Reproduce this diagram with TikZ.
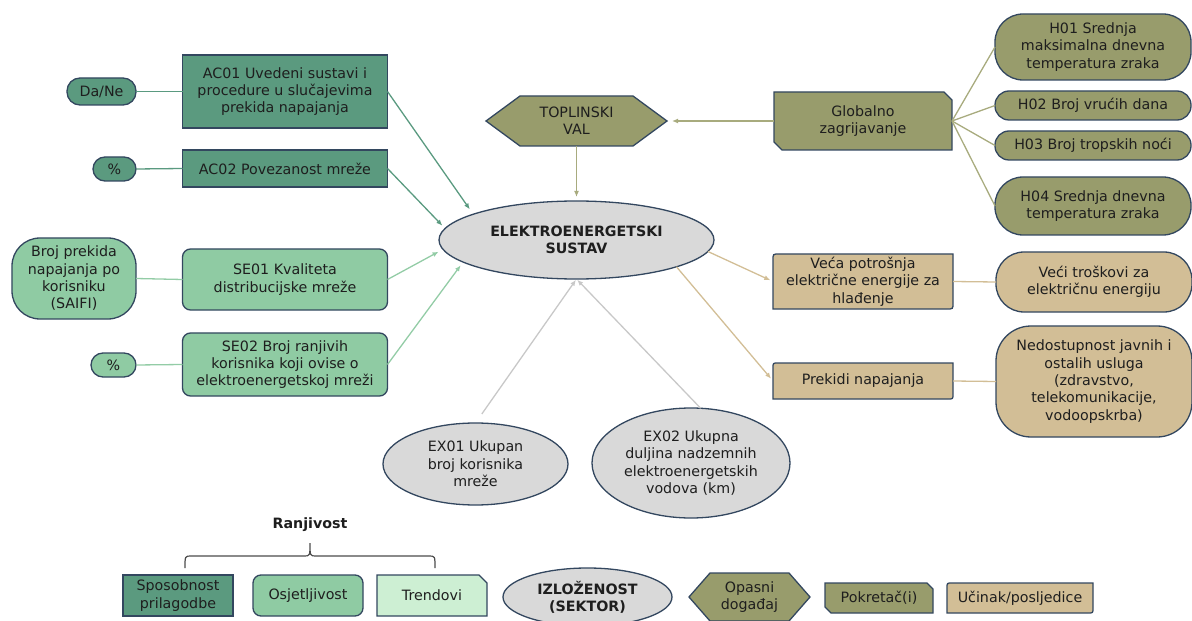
\documentclass[tikz,border=0pt]{standalone}
\usepackage{fontspec}
\setmainfont{DejaVu Sans}
\usetikzlibrary{shapes.geometric,arrows.meta,backgrounds}

\definecolor{bordercol}{HTML}{33475F}
\definecolor{ink}{HTML}{1E1E1E}
\definecolor{tealD}{HTML}{5B9A7F}
\definecolor{greenM}{HTML}{8FCBA3}
\definecolor{greenL}{HTML}{CDEFD3}
\definecolor{oliveF}{HTML}{989C6C}
\definecolor{tanF}{HTML}{D2BE96}
\definecolor{greyE}{HTML}{D9D9D9}
\definecolor{tealLine}{HTML}{5A9A80}
\definecolor{greenLine}{HTML}{93CCA6}
\definecolor{oliveLine}{HTML}{A8AB7E}
\definecolor{tanLine}{HTML}{D2BE96}
\definecolor{greyLine}{HTML}{C8C8C8}

\newcommand\lblfont{\fontsize{14.3}{17.4}\selectfont}

% hexagon around a (plain) node: node, tip depth, fill
\newcommand\hexfill[3]{%
  \filldraw[edge, fill=#3] (#1.west) -- ([xshift=#2]#1.north west) -- ([xshift=-#2]#1.north east)
    -- (#1.east) -- ([xshift=-#2]#1.south east) -- ([xshift=#2]#1.south west) -- cycle;}
% box with snipped top-right and bottom-left corners
\newcommand\snipfill[3]{%
  \filldraw[edge, fill=#3] (#1.north west) -- ([xshift=-#2]#1.north east) -- ([yshift=-#2]#1.north east)
    -- (#1.south east) -- ([xshift=#2]#1.south west) -- ([yshift=#2]#1.south west) -- cycle;}
% box with only the top-right corner snipped
\newcommand\snipTRfill[3]{%
  \filldraw[edge, fill=#3] (#1.north west) -- ([xshift=-#2]#1.north east) -- ([yshift=-#2]#1.north east)
    -- (#1.south east) -- (#1.south west) -- cycle;}
% box with rounded top-left and bottom-right corners
\newcommand\diagroundfill[3]{%
  \filldraw[edge, fill=#3] (#1.south west) -- ([yshift=-#2]#1.north west)
    .. controls (#1.north west) .. ([xshift=#2]#1.north west) -- (#1.north east)
    -- ([yshift=#2]#1.south east) .. controls (#1.south east) .. ([xshift=-#2]#1.south east) -- cycle;}

\begin{document}
\begin{tikzpicture}[x=1bp,y=-1bp,
  every node/.style={inner sep=0pt, outer sep=0pt, align=center, font=\lblfont, text=ink},
  edge/.style={draw=bordercol, line width=1.3bp},
  sz/.style 2 args={minimum width=#1bp, minimum height=#2bp},
  sharpbox/.style={rectangle, edge},
  roundbox/.style={rectangle, edge, rounded corners=8bp},
  pill/.style={rectangle, edge, rounded corners=#1},
  oval/.style={ellipse, edge, fill=greyE},
  ghost/.style={rectangle},
  link/.style={line width=1.3bp},
  tip/.style={-{Latex[length=6bp,width=5bp]}},
]
\useasboundingbox (0,0) rectangle (1192,621);

% adaptive capacity
\node[sharpbox, fill=tealD, sz={205}{73}] (ac01) at (285,91.5) {AC01 Uvedeni sustavi i\\procedure u slučajevima\\prekida napajanja};
\node[pill=13bp, fill=tealD, sz={69}{27}] (dane) at (101.5,91.5) {Da/Ne};
\node[sharpbox, fill=tealD, sz={205}{37}] (ac02) at (285,168.5) {AC02 Povezanost mreže};
\node[pill=12bp, fill=tealD, sz={43}{24}] (pc1) at (114.5,169) {\%};

% sensitivity
\node[roundbox, fill=greenM, sz={205}{61}] (se01) at (285,279.5) {SE01 Kvaliteta\\distribucijske mreže};
\node[pill=28bp, fill=greenM, sz={124}{81}] (saifi) at (74,278.5) {Broj prekida\\napajanja po\\korisniku\\(SAIFI)};
\node[roundbox, fill=greenM, sz={205}{63}] (se02) at (285,364.5) {SE02 Broj ranjivih\\korisnika koji ovise o\\elektroenergetskoj mreži};
\node[pill=12bp, fill=greenM, sz={45}{24}] (pc2) at (113.5,365) {\%};

% hazard and sector
\node[ghost, sz={181}{50}] (tv) at (576.5,121) {TOPLINSKI\\VAL};
\node[oval, sz={275}{78}, font=\lblfont\bfseries] (es) at (576.5,240) {ELEKTROENERGETSKI\\SUSTAV};

% drivers
\node[ghost, sz={178}{58}] (gz) at (863,121) {Globalno\\zagrijavanje};
\node[pill=28bp, fill=oliveF, sz={196}{66}] (h01) at (1093,47) {H01 Srednja\\maksimalna dnevna\\temperatura zraka};
\node[pill=14bp, fill=oliveF, sz={196}{29}] (h02) at (1093,105.5) {H02 Broj vrućih dana};
\node[pill=14bp, fill=oliveF, sz={196}{29}] (h03) at (1093,145.5) {H03 Broj tropskih noći};
\node[pill=28bp, fill=oliveF, sz={196}{58}] (h04) at (1093,206) {H04 Srednja dnevna\\temperatura zraka};

% impacts
\node[ghost, sz={180}{55}] (vp) at (863,281.5) {Veća potrošnja\\električne energije za\\hlađenje};
\node[pill=28bp, fill=tanF, sz={196}{60}] (vt) at (1094,282) {Veći troškovi za\\električnu energiju};
\node[ghost, sz={180}{36}] (pn) at (863,381) {Prekidi napajanja};
\node[pill=35bp, fill=tanF, sz={196}{111}] (nd) at (1094,381.5) {Nedostupnost javnih i\\ostalih usluga\\(zdravstvo,\\telekomunikacije,\\vodoopskrba)};

% exposure
\node[oval, sz={185}{82}] (ex1) at (475.5,464) {EX01 Ukupan\\broj korisnika\\mreže};
\node[oval, sz={198}{110}] (ex2) at (691,463) {EX02 Ukupna\\duljina nadzemnih\\elektroenergetskih\\vodova (km)};

% legend
\node[font=\lblfont\bfseries] (rj) at (310,525) {Ranjivost};
\node[sharpbox, fill=tealD, sz={110}{41}] (lg1) at (178,595.5) {Sposobnost\\prilagodbe};
\node[roundbox, fill=greenM, sz={110}{41}] (lg2) at (308,595.5) {Osjetljivost};
\node[ghost, sz={110}{41}] (lg3) at (432,595.5) {Trendovi};
\node[oval, sz={169}{58}, font=\lblfont\bfseries] (lg4) at (587.5,597) {IZLOŽENOST\\(SEKTOR)};
\node[ghost, sz={121}{48}] (lg5) at (749.5,597) {Opasni\\događaj};
\node[ghost, sz={108}{30}] (lg6) at (879,598) {Pokretač(i)};
\node[ghost, sz={146}{30}] (lg7) at (1020,598) {Učinak/posljedice};

% outlines of the custom shapes
\begin{scope}[on background layer]
  \hexfill{tv}{34bp}{oliveF}
  \hexfill{lg5}{21bp}{oliveF}
  \snipfill{gz}{8bp}{oliveF}
  \snipfill{lg6}{6bp}{oliveF}
  \snipTRfill{lg3}{8bp}{greenL}
  \diagroundfill{vp}{6bp}{tanF}
  \diagroundfill{pn}{5bp}{tanF}
  \diagroundfill{lg7}{5bp}{tanF}
\end{scope}

% indicator units
\draw[link, draw=tealLine] (dane.east) -- (ac01.west);
\draw[link, draw=tealLine] (pc1.east) -- (ac02.west);
\draw[link, draw=greenLine] (saifi.east) -- (se01.west);
\draw[link, draw=greenLine] (pc2.east) -- (se02.west);

% vulnerability into the sector
\draw[link, tip, draw=tealLine, shorten >=6bp] (ac01.east) -- (es.166);
\draw[link, tip, draw=tealLine, shorten >=4bp] (ac02.east) -- (es.175);
\draw[link, tip, draw=greenLine, shorten >=5bp] (se01.east) -- (es.184);
\draw[link, tip, draw=greenLine, shorten >=4bp] (se02.east) -- (es.191);

% hazard chain
\draw[link, tip, draw=oliveLine, shorten >=5bp] (gz.west) -- (tv.east);
\draw[link, tip, draw=oliveLine, shorten >=4bp] (tv.south) -- (es.north);
\foreach \h in {h01,h02,h03,h04}
  \draw[link, draw=oliveLine] (gz.east) -- (\h.west);

% impacts
\draw[link, tip, draw=tanLine, shorten >=3bp] (es.-5) -- (vp.west);
\draw[link, tip, draw=tanLine, shorten >=3bp] (es.-15) -- (pn.west);
\draw[link, draw=tanLine] (vp.east) -- (vt.west);
\draw[link, draw=tanLine] (pn.east) -- (nd.west);

% exposure
\draw[link, tip, draw=greyLine, shorten <=11bp, shorten >=1bp] (ex1.north) -- (es.south);
\draw[link, tip, draw=greyLine, shorten >=1bp] (ex2.80) -- (es.south);

% brace over the vulnerability legend
\draw[line width=1.2bp, draw=ink!80] (185,568) .. controls (185,556) .. (191,556) -- (304,556)
  .. controls (310,556) .. (310,543) .. controls (310,556) .. (316,556) -- (429,556)
  .. controls (435,556) .. (435,568);
\end{tikzpicture}
\end{document}
